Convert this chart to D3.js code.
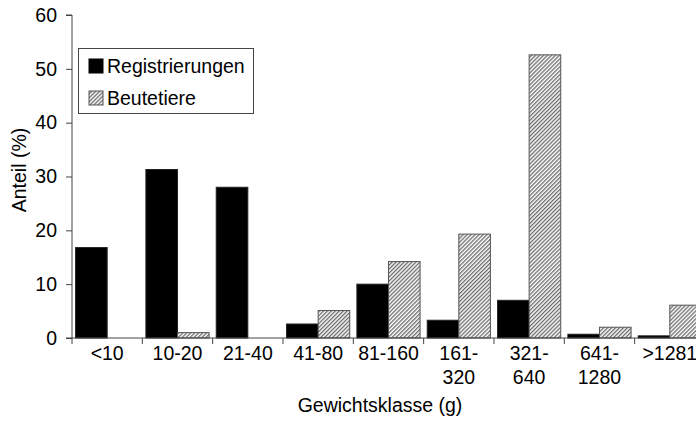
<!DOCTYPE html>
<html><head><meta charset="utf-8">
<script src="https://cdn.jsdelivr.net/npm/d3@7"></script>
<style>
html,body{margin:0;padding:0;background:#fff;}
svg{display:block;font-family:"Liberation Sans",Arial,sans-serif;}
</style></head>
<body>
<svg id="chart" width="696" height="432"></svg>
<script>
const categories = [["<10"],["10-20"],["21-40"],["41-80"],["81-160"],["161-","320"],["321-","640"],["641-","1280"],[">1281"]];
const seriesNames = ["Registrierungen","Beutetiere"];
const registrierungen = [16.8, 31.3, 28.0, 2.6, 10.0, 3.3, 7.0, 0.7, 0.4];
const beutetiere = [0, 1.0, 0, 5.1, 14.2, 19.3, 52.6, 2.0, 6.1];
const yTicks = [0,10,20,30,40,50,60];
const xTitle = "Gewichtsklasse (g)";
const yTitle = "Anteil (%)";

(function(){
const FS = 19.5;
const svg = d3.select("#chart");
const defs = svg.append("defs");
const pat = defs.append("pattern").attr("id","hatch").attr("patternUnits","userSpaceOnUse")
  .attr("width",2.8).attr("height",2.8).attr("patternTransform","rotate(45)");
pat.append("rect").attr("width",2.8).attr("height",2.8).attr("fill","#fff");
pat.append("rect").attr("width",1.3).attr("height",2.8).attr("fill","#6a6a6a");

const mLeft = 72, mBottom = 338, mTop = 15;
const step = 70.33;
const keys = categories.map((c,i)=>i);
const x = d3.scaleBand().domain(keys).range([mLeft, mLeft + step*categories.length]).paddingInner(0).paddingOuter(0);
const xs = d3.scaleBand().domain(seriesNames).range([0, x.bandwidth()]).paddingInner(0).paddingOuter(0.113);
const y = d3.scaleLinear().domain([0,60]).range([mBottom, mTop]);

const data = keys.map(i => ({i, vals:[registrierungen[i], beutetiere[i]]}));

const g = svg.append("g");
data.forEach(d => {
  d.vals.forEach((v,j) => {
    if (v <= 0) return;
    g.append("rect")
      .attr("x", x(d.i) + xs(seriesNames[j]))
      .attr("y", y(v))
      .attr("width", xs.bandwidth())
      .attr("height", y(0) - y(v))
      .attr("fill", j === 0 ? "#000" : "url(#hatch)")
      .attr("stroke", j === 0 ? "#222" : "#555")
      .attr("stroke-width", 1);
  });
});

// Y axis
const yAxis = d3.axisLeft(y).tickValues(yTicks).tickSize(6).tickPadding(9).tickFormat(d3.format("d"));
const ya = svg.append("g").attr("transform",`translate(${mLeft},0)`).call(yAxis);
ya.select(".domain").attr("stroke","#444").attr("d",`M-6,${mTop}H0V${mBottom}H-6`);
ya.selectAll(".tick line").attr("stroke","#444");
ya.selectAll("text").attr("font-size",FS).attr("fill","#000").attr("font-family","Liberation Sans, Arial, sans-serif");

// X axis
const xa = svg.append("g").attr("transform",`translate(0,${mBottom})`);
xa.append("line").attr("x1",mLeft).attr("x2",696).attr("y1",0).attr("y2",0).attr("stroke","#444");
const boundaries = keys.map(i => x(i)).concat([x(keys[keys.length-1]) + x.bandwidth()]);
xa.selectAll("line.tk").data(boundaries).enter().append("line").attr("class","tk")
  .attr("x1",d=>d).attr("x2",d=>d).attr("y1",0).attr("y2",6).attr("stroke","#444");
keys.forEach(i => {
  const t = xa.append("text").attr("x", x(i) + x.bandwidth()/2).attr("y", 22)
    .attr("text-anchor","middle").attr("font-size",FS).attr("fill","#000");
  categories[i].forEach((line,k) => {
    t.append("tspan").attr("x", x(i) + x.bandwidth()/2).attr("dy", k===0 ? 0 : 24).text(line);
  });
});

svg.append("text").attr("x", 380).attr("y", 412).attr("text-anchor","middle")
  .attr("font-size",FS).text(xTitle);
svg.append("text").attr("transform","translate(26,170) rotate(-90)").attr("text-anchor","middle")
  .attr("font-size",FS).text(yTitle);

// Legend
const lg = svg.append("g");
lg.append("rect").attr("x",78.5).attr("y",48.5).attr("width",175).attr("height",65)
  .attr("fill","#fff").attr("stroke","#444");
seriesNames.forEach((n,j) => {
  lg.append("rect").attr("x",89).attr("y",59 + j*32).attr("width",14).attr("height",14)
    .attr("fill", j===0 ? "#000" : "url(#hatch)").attr("stroke", j===0?"#000":"#555");
  lg.append("text").attr("x",107).attr("y",73 + j*32).attr("font-size",FS).text(n);
});
})();
</script>
</body></html>
